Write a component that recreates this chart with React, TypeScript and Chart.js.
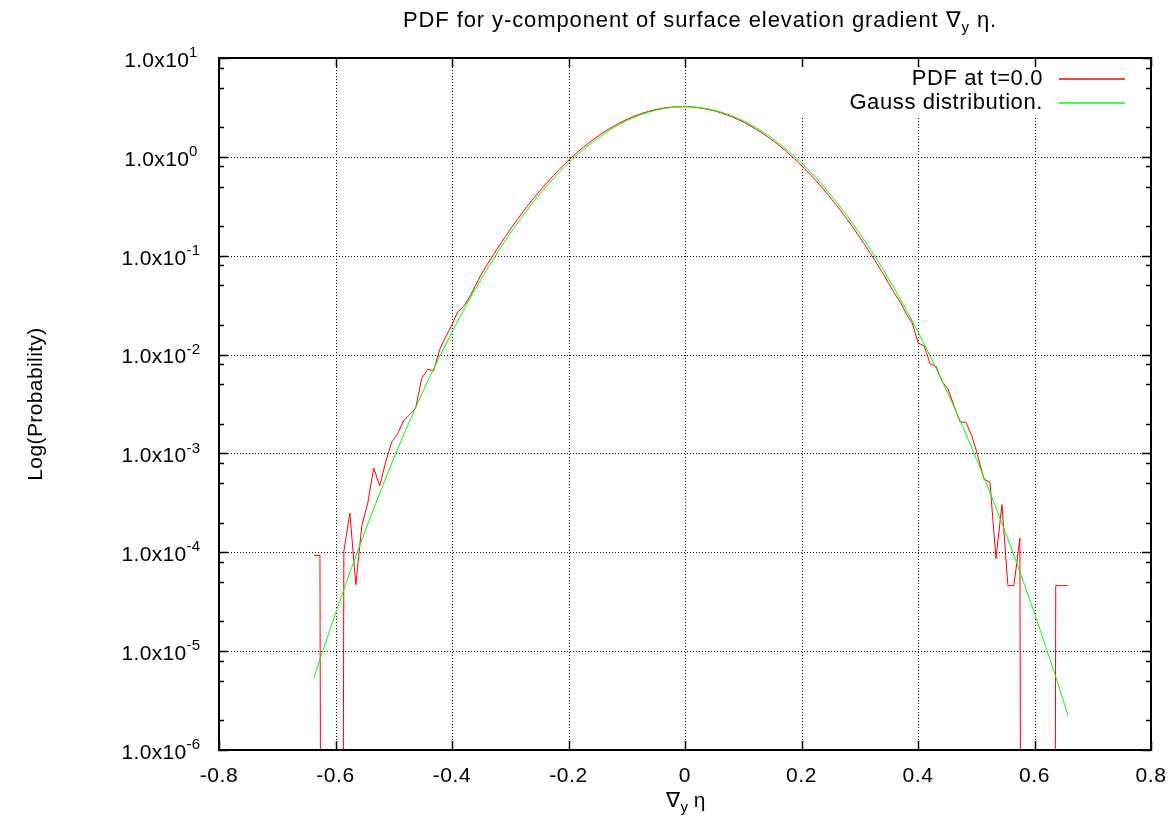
import React, { useEffect, useRef } from "react";
import { Chart, registerables } from "chart.js";

Chart.register(...registerables);

// ---- data ----
const pdfX = [
  -0.637, -0.6267, -0.6165, -0.6062, -0.5959, -0.5857, -0.5754, -0.5651, -0.5548, -0.5446,
  -0.5343, -0.524, -0.5138, -0.5035, -0.4932, -0.483, -0.4727, -0.4624, -0.4521, -0.4419,
  -0.4316, -0.4213, -0.4111, -0.4008, -0.3905, -0.3803, -0.37, -0.3597, -0.3494, -0.3392,
  -0.3289, -0.3186, -0.3084, -0.2981, -0.2878, -0.2776, -0.2673, -0.257, -0.2467, -0.2365,
  -0.2262, -0.2159, -0.2057, -0.1954, -0.1851, -0.1749, -0.1646, -0.1543, -0.144, -0.1338,
  -0.1235, -0.1132, -0.103, -0.0927, -0.0824, -0.0722, -0.0619, -0.0516, -0.0413, -0.0311,
  -0.0208, -0.0105, -0.0003, 0.01, 0.0203, 0.0306, 0.0408, 0.0511, 0.0614, 0.0716,
  0.0819, 0.0922, 0.1024, 0.1127, 0.123, 0.1333, 0.1435, 0.1538, 0.1641, 0.1743,
  0.1846, 0.1949, 0.2051, 0.2154, 0.2257, 0.236, 0.2462, 0.2565, 0.2668, 0.277,
  0.2873, 0.2976, 0.3078, 0.3181, 0.3284, 0.3387, 0.3489, 0.3592, 0.3695, 0.3797,
  0.39, 0.4003, 0.4105, 0.4208, 0.4311, 0.4414, 0.4516, 0.4619, 0.4722, 0.4824,
  0.4927, 0.503, 0.5132, 0.5235, 0.5338, 0.5441, 0.5543, 0.5646, 0.5749, 0.5851,
  0.5954, 0.6057, 0.6159, 0.6262, 0.6365, 0.6468, 0.657,
];
const pdfY = [
  9.3e-5, 9.3e-5, 0, 0, 0, 1.02e-4, 2.5e-4, 4.7e-5, 1.86e-4, 3.16e-4,
  7.1e-4, 4.7e-4, 8.2e-4, 1.3e-3, 1.58e-3, 2.16e-3, 2.46e-3, 2.88e-3, 5.7e-3, 7.1e-3,
  6.85e-3, 0.0112, 0.015, 0.0195, 0.0269, 0.0306, 0.038, 0.05, 0.0653, 0.0821,
  0.1025, 0.1271, 0.1564, 0.1913, 0.2323, 0.2802, 0.3355, 0.399, 0.4714, 0.5529,
  0.644, 0.745, 0.856, 0.9768, 1.107, 1.245, 1.392, 1.545, 1.703, 1.865,
  2.026, 2.188, 2.346, 2.498, 2.641, 2.773, 2.893, 2.996, 3.082, 3.148,
  3.194, 3.218, 3.22, 3.199, 3.157, 3.093, 3.01, 2.91, 2.793, 2.662,
  2.52, 2.37, 2.213, 2.051, 1.889, 1.728, 1.569, 1.415, 1.268, 1.128,
  0.9963, 0.874, 0.7615, 0.659, 0.5662, 0.4831, 0.4097, 0.3447, 0.2882, 0.2392,
  0.1972, 0.1615, 0.1313, 0.106, 0.085, 0.0677, 0.0536, 0.042, 0.034, 0.026,
  0.0209, 0.0131, 0.01227, 8.07e-3, 7.58e-3, 5.35e-3, 4.48e-3, 3.03e-3, 2.09e-3, 2.06e-3,
  1.49e-3, 9.3e-4, 5.5e-4, 5.1e-4, 8.7e-5, 3.03e-4, 4.6e-5, 4.6e-5, 1.39e-4, 0,
  0, 0, 0, 0, 4.6e-5, 4.6e-5, 4.6e-5,
];
const gaussX = [
  -0.637, -0.62, -0.6, -0.58, -0.56, -0.54, -0.52, -0.5, -0.48, -0.46, -0.44, -0.42,
  -0.4, -0.38, -0.36, -0.34, -0.32, -0.3, -0.28, -0.26, -0.24, -0.22, -0.2, -0.18,
  -0.16, -0.14, -0.12, -0.1, -0.08, -0.06, -0.04, -0.02, 0, 0.02, 0.04, 0.06,
  0.08, 0.1, 0.12, 0.14, 0.16, 0.18, 0.2, 0.22, 0.24, 0.26, 0.28, 0.3,
  0.32, 0.34, 0.36, 0.38, 0.4, 0.42, 0.44, 0.46, 0.48, 0.5, 0.52, 0.54,
  0.56, 0.58, 0.6, 0.62, 0.64, 0.6575,
];
const gaussY = [
  5.38e-6, 1.084e-5, 2.41e-5, 5.23e-5, 1.105e-4, 2.27e-4, 4.55e-4, 8.89e-4, 1.69e-3, 3.13e-3, 5.645e-3, 9.922e-3,
  0.01699, 0.02833, 0.04601, 0.07283, 0.1122, 0.1685, 0.2465, 0.3512, 0.4876, 0.659, 0.868, 1.113,
  1.392, 1.694, 2.009, 2.321, 2.612, 2.862, 3.056, 3.179, 3.221, 3.179, 3.056, 2.862,
  2.612, 2.321, 2.009, 1.694, 1.392, 1.113, 0.868, 0.659, 0.4876, 0.3512, 0.2465, 0.1685,
  0.1122, 0.07283, 0.04601, 0.02833, 0.01699, 9.922e-3, 5.645e-3, 3.13e-3, 1.69e-3, 8.89e-4, 4.55e-4, 2.27e-4,
  1.105e-4, 5.23e-5, 2.41e-5, 1.084e-5, 4.75e-6, 2.25e-6,
];

const xTickValues = [-0.8, -0.6, -0.4, -0.2, 0, 0.2, 0.4, 0.6, 0.8];
const xTickLabels = ["-0.8", "-0.6", "-0.4", "-0.2", "0", "0.2", "0.4", "0.6", "0.8"];
const yTickExponents = [1, 0, -1, -2, -3, -4, -5, -6];
const yTickBase = "1.0x10";
const yMinorFactors = [2, 5, 8];
const seriesNames = ["PDF at t=0.0", "Gauss distribution."];
const seriesColors = ["#ff0000", "#00ff00"];
const ZERO_FLOOR = 1e-30; // empty bins (log scale cannot show 0)

const FONT = '"Liberation Sans", Arial, Helvetica, sans-serif';
const FS = 21;
const FS_SMALL = 15;

type Part = { t: string; sub?: boolean; sup?: boolean };

function drawRich(
  ctx: CanvasRenderingContext2D,
  parts: Part[],
  x: number,
  y: number,
  align: "left" | "center" | "right",
  spacing = 0,
  size = FS
) {
  (ctx as any).letterSpacing = `${spacing}px`;
  let total = 0;
  const widths = parts.map((p) => {
    ctx.font = `${p.sub || p.sup ? FS_SMALL : size}px ${FONT}`;
    const w = ctx.measureText(p.t).width;
    total += w;
    return w;
  });
  let cx = align === "left" ? x : align === "center" ? x - total / 2 : x - total;
  ctx.textAlign = "left";
  ctx.textBaseline = "middle";
  parts.forEach((p, i) => {
    ctx.font = `${p.sub || p.sup ? FS_SMALL : size}px ${FONT}`;
    const dy = p.sub ? 7 : p.sup ? -8 : 0;
    ctx.fillText(p.t, cx, y + dy);
    cx += widths[i];
  });
  (ctx as any).letterSpacing = "0px";
}

const decorPlugin = {
  id: "gnuplotDecor",
  beforeDatasetsDraw(chart: any) {
    const { ctx, chartArea: a, scales } = chart;
    const xs = scales.x;
    const ys = scales.y;
    ctx.save();
    ctx.strokeStyle = "#000";
    ctx.lineWidth = 1;
    ctx.setLineDash([1, 2]);
    xTickValues.forEach((v) => {
      if (v <= -0.8 || v >= 0.8) return;
      const px = Math.round(xs.getPixelForValue(v)) + 0.5;
      ctx.beginPath();
      ctx.moveTo(px, a.top);
      ctx.lineTo(px, a.bottom);
      ctx.stroke();
    });
    yTickExponents.forEach((e) => {
      if (e >= 1 || e <= -6) return;
      const py = Math.round(ys.getPixelForValue(Math.pow(10, e))) + 0.5;
      ctx.beginPath();
      ctx.moveTo(a.left, py);
      ctx.lineTo(a.right, py);
      ctx.stroke();
    });
    ctx.restore();
  },
  afterDatasetsDraw(chart: any) {
    const { ctx, chartArea: a, scales } = chart;
    const xs = scales.x;
    const ys = scales.y;
    ctx.save();
    ctx.setLineDash([]);
    // opaque key
    ctx.fillStyle = "#fff";
    ctx.fillRect(792, a.top + 1, a.right - 793, 58);

    // ticks
    ctx.strokeStyle = "#000";
    ctx.lineWidth = 1.5;
    xTickValues.forEach((v) => {
      const px = Math.round(xs.getPixelForValue(v)) + 0.5;
      ctx.beginPath();
      ctx.moveTo(px, a.bottom);
      ctx.lineTo(px, a.bottom - 9);
      ctx.moveTo(px, a.top);
      ctx.lineTo(px, a.top + 9);
      ctx.stroke();
    });
    yTickExponents.forEach((e) => {
      const py = Math.round(ys.getPixelForValue(Math.pow(10, e))) + 0.5;
      ctx.beginPath();
      ctx.moveTo(a.left, py);
      ctx.lineTo(a.left + 9, py);
      ctx.moveTo(a.right, py);
      ctx.lineTo(a.right - 9, py);
      ctx.stroke();
      if (e < 1) {
        yMinorFactors.forEach((f) => {
          const pm = Math.round(ys.getPixelForValue(f * Math.pow(10, e))) + 0.5;
          ctx.beginPath();
          ctx.moveTo(a.left, pm);
          ctx.lineTo(a.left + 5, pm);
          ctx.moveTo(a.right, pm);
          ctx.lineTo(a.right - 5, pm);
          ctx.stroke();
        });
      }
    });

    // border
    ctx.lineWidth = 2;
    ctx.strokeRect(a.left, a.top, a.right - a.left, a.bottom - a.top);

    // legend
    seriesNames.forEach((name, i) => {
      const yy = 79 + i * 24;
      ctx.fillStyle = "#000";
      drawRich(ctx, [{ t: name }], 1043, yy, "right", 0.6, 22);
      ctx.strokeStyle = seriesColors[i];
      ctx.lineWidth = 1.5;
      ctx.beginPath();
      ctx.moveTo(1059, yy);
      ctx.lineTo(1125, yy);
      ctx.stroke();
    });

    // tick labels
    ctx.fillStyle = "#000";
    xTickValues.forEach((v, i) => {
      const px = xs.getPixelForValue(v);
      drawRich(ctx, [{ t: xTickLabels[i] }], px, 776, "center", 0.6);
    });
    yTickExponents.forEach((e) => {
      const py = ys.getPixelForValue(Math.pow(10, e));
      drawRich(ctx, [{ t: yTickBase }, { t: String(e), sup: true }], 161, py + 3, "center", 0.3);
    });

    // title
    drawRich(
      ctx,
      [{ t: "PDF for y-component of surface elevation gradient \u2207" }, { t: "y", sub: true }, { t: " \u03b7." }],
      700,
      21,
      "center",
      0.9,
      22
    );
    // x axis title
    drawRich(ctx, [{ t: "\u2207" }, { t: "y", sub: true }, { t: " \u03b7" }], 686, 801, "center");
    // y axis title
    ctx.translate(36, 404);
    ctx.rotate(-Math.PI / 2);
    drawRich(ctx, [{ t: "Log(Probability)" }], 0, 0, "center", 0.4);
    ctx.restore();
  },
};

export default function App() {
  const ref = useRef<HTMLCanvasElement | null>(null);
  useEffect(() => {
    document.body.style.margin = "0";
    const canvas = ref.current;
    if (!canvas) return;
    const chart = new Chart(canvas, {
      type: "line",
      data: {
        datasets: [
          {
            label: seriesNames[0],
            data: pdfX.map((x, i) => ({ x, y: pdfY[i] > 0 ? pdfY[i] : ZERO_FLOOR })),
            borderColor: seriesColors[0],
            borderWidth: 1,
            pointRadius: 0,
            tension: 0,
            fill: false,
            order: 1,
          },
          {
            label: seriesNames[1],
            data: gaussX.map((x, i) => ({ x, y: gaussY[i] })),
            borderColor: seriesColors[1],
            borderWidth: 1,
            pointRadius: 0,
            tension: 0,
            fill: false,
            order: 0,
          },
        ],
      },
      options: {
        animation: false,
        responsive: false,
        devicePixelRatio: 1,
        layout: { padding: { left: 219, right: 24, top: 58, bottom: 77 } },
        plugins: { legend: { display: false }, tooltip: { enabled: false }, title: { display: false } },
        scales: {
          x: { type: "linear", min: -0.8, max: 0.8, display: false },
          y: { type: "logarithmic", min: 1e-6, max: 10, display: false },
        },
      },
      plugins: [decorPlugin],
    } as any);
    return () => chart.destroy();
  }, []);
  return (
    <div style={{ width: 1175, height: 827, background: "#fff" }}>
      <canvas ref={ref} width={1175} height={827} style={{ display: "block" }} />
    </div>
  );
}
